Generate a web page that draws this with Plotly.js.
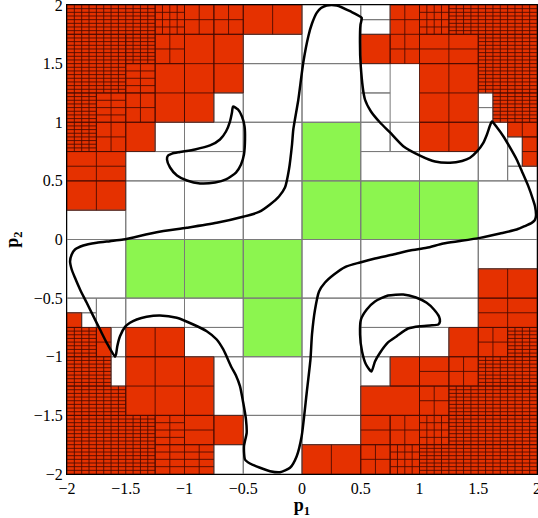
<!DOCTYPE html>
<html><head><meta charset="utf-8">
<script src="https://cdn.plot.ly/plotly-3.0.1.min.js"></script>
<style>body{margin:0;background:#fff}#chart{width:538px;height:518px}</style>
</head><body><div id="chart"></div>
<script>
const tickVals = [-2,-1.5,-1,-0.5,0,0.5,1,1.5,2];
const tickText = ['\u22122','\u22121.5','\u22121','\u22120.5','0','0.5','1','1.5','2'];
const xTitle = '<b>p</b><sub><b>1</b></sub>';
const yTitle = '<b>p</b><sub><b>2</b></sub>';

// inner boxes [x0,x1,y0,y1]
const greenBoxes = [
 [0,0.5,0.5,1],[0,0.5,0,0.5],[0.5,1,0,0.5],[1,1.5,0,0.5],
 [-1.5,-1,-0.5,0],[-1,-0.5,-0.5,0],[-0.5,0,-0.5,0],[-0.5,0,-1,-0.5]
];
// boundary boxes [x0,x1,y0,y1]
const whiteBoxes = [
 [-0.5,0,1.5,1.75],[0,0.5,1.5,2],[0.5,0.75,1.875,2],[0.5,0.75,1.75,1.875],
 [-0.75,-0.5,1,1.25],[-0.5,0,1,1.5],[0,0.5,1,1.5],[0.5,0.75,1.25,1.5],[0.5,0.75,1,1.25],
 [1.5,1.625,1.125,1.25],[1.5,1.625,1,1.125],
 [-1.25,-1,0.75,1],[-1.5,-1,0.5,0.75],[-1,-0.5,0.75,1],[-1,-0.5,0.5,0.75],[-0.5,0,0.5,1],
 [0.5,0.75,0.75,1],[0.75,1,0.75,1],[0.5,1,0.5,0.75],[1,1.5,0.5,0.75],[1.5,1.75,0.5,1],
 [1.75,1.875,0.625,0.875],[1.75,2,0.5,0.625],
 [-2,-1.5,0,0.25],[-1.5,-1,0,0.5],[-1,-0.5,0,0.5],[-0.5,0,0,0.5],[1.5,2,0,0.5],
 [-2,-1.5,-0.5,0],[0,0.5,-0.5,0],[0.5,1,-0.5,0],[1,1.5,-0.5,0],[1.5,2,-0.25,0],
 [-2,-1.75,-0.625,-0.5],[-1.875,-1.75,-0.75,-0.625],[-1.75,-1.5,-0.75,-0.5],[-1.625,-1.5,-1,-0.75],
 [-1.5,-1,-0.75,-0.5],[-1,-0.5,-0.75,-0.5],[-1,-0.5,-1,-0.75],[0,0.5,-1,-0.5],
 [0.5,1,-0.75,-0.5],[0.5,1,-1,-0.75],[1,1.5,-0.75,-0.5],[1,1.25,-1,-0.75],
 [-1.625,-1.5,-1.25,-1],[-0.75,-0.5,-1.5,-1],[-0.5,0,-1.5,-1],[0,0.5,-1.5,-1],[0.5,0.75,-1.25,-1],
 [-0.5,0,-2,-1.5],[0,0.5,-1.75,-1.5],[-0.75,-0.5,-2,-1.75]
];
// outer boxes [x0,x1,y0,y1,nx,ny] (nx*ny equal cells)
const redBoxes = [
 [-2,-1.25,1.75,2,12,8],[-2,-1.5,1.25,1.75,8,16],[-1.5,-1.25,1.5,1.75,4,8],[-1.25,-1,1.75,2,4,4],
 [-1.25,-1,1.5,1.75,2,2],[-1.5,-1.25,1.25,1.5,2,4],[-2,-1.75,1,1.25,4,8],[-1.75,-1.5,1,1.25,2,4],
 [-1.5,-1.25,1,1.25,2,2],[-1.25,-1,1,1.5,1,2],[-1,-0.75,1.75,2,2,2],[-0.75,-0.5,1.75,2,2,2],
 [-1,-0.75,1,1.75,1,3],[-0.75,-0.5,1.25,1.75,1,2],[-0.5,0,1.75,2,2,1],[-2,-1.75,0.75,1,4,8],
 [-1.75,-1.5,0.75,1,2,2],[-1.5,-1.25,0.75,1,1,1],[-2,-1.5,0.5,0.75,2,2],[-2,-1.5,0.25,0.5,2,1],
 [0.5,0.75,1.5,1.75,1,1],[0.75,1,1.5,2,2,4],[1,1.25,1.75,2,4,4],[1.25,2,1.75,2,12,8],
 [1,1.5,1.5,1.75,2,2],[1.5,2,1.25,1.75,8,16],[1,1.5,1,1.5,2,2],[1.625,2,1,1.25,6,8],
 [1,1.5,0.75,1,2,1],[1.75,2,0.875,1,2,1],[1.875,2,0.625,0.875,1,2],
 [1.5,2,-0.5,-0.25,2,1],[1.5,2,-0.75,-0.5,2,2],[1.25,1.5,-1,-0.75,1,1],[1.5,1.75,-1,-0.75,2,2],
 [1.75,2,-1,-0.75,4,8],[0.75,1,-1.25,-1,1,1],[1,1.25,-1.25,-1,1,2],[1.25,1.5,-1.25,-1,2,2],
 [1.5,2,-1.25,-1,8,8],[0.5,1,-1.5,-1.25,1,1],[1,1.25,-1.5,-1.25,2,2],[1.25,2,-1.5,-1.25,12,8],
 [0.5,0.75,-1.75,-1.5,1,2],[0.75,1,-1.75,-1.5,2,2],[1,1.25,-1.75,-1.5,4,4],[1.25,2,-1.75,-1.5,12,8],
 [0.5,0.75,-2,-1.75,2,2],[0.75,1,-2,-1.75,4,4],[1,2,-2,-1.75,16,8],[0,0.5,-2,-1.75,2,1],
 [-2,-1.875,-0.75,-0.625,1,1],[-2,-1.75,-1,-0.75,4,8],[-1.75,-1.625,-1,-0.75,1,2],[-1.5,-1,-1,-0.75,2,1],
 [-2,-1.625,-1.25,-1,6,8],[-2,-1.5,-1.5,-1.25,8,8],[-2,-1.25,-2,-1.5,12,16],[-1.5,-1,-1.5,-1,2,2],
 [-1.25,-1,-1.75,-1.5,2,4],[-1,-0.75,-1.5,-1,1,2],[-1.25,-0.75,-2,-1.75,4,4],[-1,-0.75,-1.75,-1.5,1,2],
 [-0.75,-0.5,-1.75,-1.5,1,1]
];
// boundary curve
const curveX = [-0.074,-0.031,0.011,0.054,0.085,0.125,0.162,0.210,0.295,0.409,0.508,0.498,0.494,0.500,0.536,0.587,0.664,0.749,0.862,1.004,1.132,1.260,1.362,1.430,1.489,1.543,1.574,1.600,1.617,1.660,1.713,1.770,1.827,1.872,1.926,1.966,1.983,1.991,1.979,1.955,1.898,1.827,1.685,1.515,1.345,1.203,1.061,0.919,0.777,0.621,0.494,0.366,0.272,0.196,0.145,0.111,0.085,0.072,0.040,-0.003,-0.045,-0.102,-0.187,-0.272,-0.357,-0.443,-0.485,-0.494,-0.471,-0.477,-0.500,-0.528,-0.562,-0.598,-0.670,-0.726,-0.811,-0.925,-1.066,-1.209,-1.322,-1.407,-1.464,-1.506,-1.549,-1.572,-1.583,-1.591,-1.662,-1.719,-1.776,-1.832,-1.889,-1.932,-1.960,-1.974,-1.960,-1.932,-1.861,-1.747,-1.634,-1.521,-1.237,-0.981,-0.726,-0.494,-0.366,-0.272,-0.196,-0.145,-0.111,-0.085,-0.074];
const curveY = [0.938,1.194,1.510,1.734,1.842,1.933,1.974,1.996,1.996,1.947,1.891,1.834,1.765,1.478,1.194,1.092,0.998,0.913,0.796,0.716,0.665,0.654,0.670,0.697,0.751,0.825,0.896,0.972,1.006,0.955,0.881,0.785,0.682,0.580,0.455,0.341,0.284,0.199,0.162,0.142,0.115,0.085,0.051,0.014,-0.013,-0.034,-0.071,-0.094,-0.128,-0.162,-0.196,-0.235,-0.299,-0.367,-0.443,-0.597,-0.810,-1.023,-1.307,-1.678,-1.848,-1.947,-1.985,-1.976,-1.947,-1.910,-1.876,-1.765,-1.649,-1.535,-1.393,-1.251,-1.160,-1.094,-0.938,-0.853,-0.782,-0.725,-0.668,-0.648,-0.659,-0.682,-0.710,-0.745,-0.825,-0.910,-0.981,-1.000,-0.881,-0.768,-0.654,-0.540,-0.426,-0.327,-0.256,-0.185,-0.128,-0.085,-0.051,-0.028,-0.014,0.000,0.062,0.100,0.142,0.196,0.235,0.299,0.367,0.443,0.597,0.810,0.938];
const loop1X = [-0.587,-0.545,-0.511,-0.489,-0.485,-0.494,-0.519,-0.562,-0.647,-0.740,-0.868,-0.979,-1.064,-1.123,-1.149,-1.140,-1.106,-1.038,-0.911,-0.783,-0.698,-0.647,-0.613,-0.596,-0.587];
const loop1Y = [1.134,1.109,1.049,0.964,0.853,0.725,0.640,0.571,0.512,0.486,0.478,0.503,0.546,0.614,0.682,0.716,0.733,0.746,0.768,0.802,0.853,0.921,1.006,1.083,1.134];
const loop2X = [0.591,0.545,0.511,0.494,0.502,0.551,0.621,0.732,0.862,0.970,1.061,1.123,1.166,1.174,1.160,1.089,1.004,0.902,0.806,0.732,0.664,0.621,0.591];
const loop2Y = [-1.126,-1.066,-0.955,-0.810,-0.682,-0.597,-0.529,-0.478,-0.469,-0.495,-0.540,-0.597,-0.657,-0.699,-0.725,-0.733,-0.739,-0.759,-0.825,-0.878,-0.966,-1.040,-1.126];

function polys(boxes){const xs=[],ys=[];boxes.forEach(b=>{xs.push(b[0],b[1],b[1],b[0],b[0],null);ys.push(b[2],b[2],b[3],b[3],b[2],null);});return {xs,ys};}
function cellLines(boxes){const xs=[],ys=[];boxes.forEach(b=>{
  const nx=b[4]||1, ny=b[5]||1;
  xs.push(b[0],b[1],b[1],b[0],b[0],null);ys.push(b[2],b[2],b[3],b[3],b[2],null);
  for(let i=1;i<nx;i++){const x=b[0]+(b[1]-b[0])*i/nx;xs.push(x,x,null);ys.push(b[2],b[3],null);}
  for(let j=1;j<ny;j++){const y=b[2]+(b[3]-b[2])*j/ny;xs.push(b[0],b[1],null);ys.push(y,y,null);}
 });return {xs,ys};}

const RED='#e53100', GREEN='#8cf54f';
const FONT='"Liberation Serif", "Times New Roman", serif';
const rp=polys(redBoxes), gp=polys(greenBoxes);
const rl=cellLines(redBoxes), gl=cellLines(greenBoxes), wl=cellLines(whiteBoxes);
const traces=[
 {x:rp.xs,y:rp.ys,type:'scatter',mode:'none',fill:'toself',fillcolor:RED,hoverinfo:'skip'},
 {x:gp.xs,y:gp.ys,type:'scatter',mode:'none',fill:'toself',fillcolor:GREEN,hoverinfo:'skip'},
 {x:wl.xs,y:wl.ys,type:'scatter',mode:'lines',line:{color:'#7a7a7a',width:1},hoverinfo:'skip'},
 {x:gl.xs,y:gl.ys,type:'scatter',mode:'lines',line:{color:'#7a7a7a',width:1},hoverinfo:'skip'},
 {x:rl.xs,y:rl.ys,type:'scatter',mode:'lines',line:{color:'rgba(70,10,0,0.85)',width:1},hoverinfo:'skip'},
 {x:curveX,y:curveY,type:'scatter',mode:'lines',line:{color:'#000',width:2.5,shape:'spline',smoothing:0.6},hoverinfo:'skip'},
 {x:loop1X,y:loop1Y,type:'scatter',mode:'lines',line:{color:'#000',width:2.5,shape:'spline',smoothing:0.6},hoverinfo:'skip'},
 {x:loop2X,y:loop2Y,type:'scatter',mode:'lines',line:{color:'#000',width:2.5,shape:'spline',smoothing:0.6},hoverinfo:'skip'}
];
const axisCommon={range:[-2,2],tickmode:'array',tickvals:tickVals,ticktext:tickText,showgrid:false,zeroline:false,
 showline:true,linecolor:'#000',linewidth:1,mirror:true,ticks:'',ticklabeloverflow:'allow',
 tickfont:{family:FONT,size:16,color:'#000'}};
const layout={width:538,height:518,margin:{l:67,r:1,t:5,b:44},paper_bgcolor:'#fff',plot_bgcolor:'#fff',showlegend:false,
 xaxis:Object.assign({},axisCommon,{title:{text:xTitle,font:{family:FONT,size:18,color:'#000'},standoff:2}}),
 yaxis:Object.assign({},axisCommon,{title:{text:yTitle,font:{family:FONT,size:18,color:'#000'},standoff:10}})};
Plotly.newPlot('chart',traces,layout,{staticPlot:true,displayModeBar:false});
</script></body></html>
